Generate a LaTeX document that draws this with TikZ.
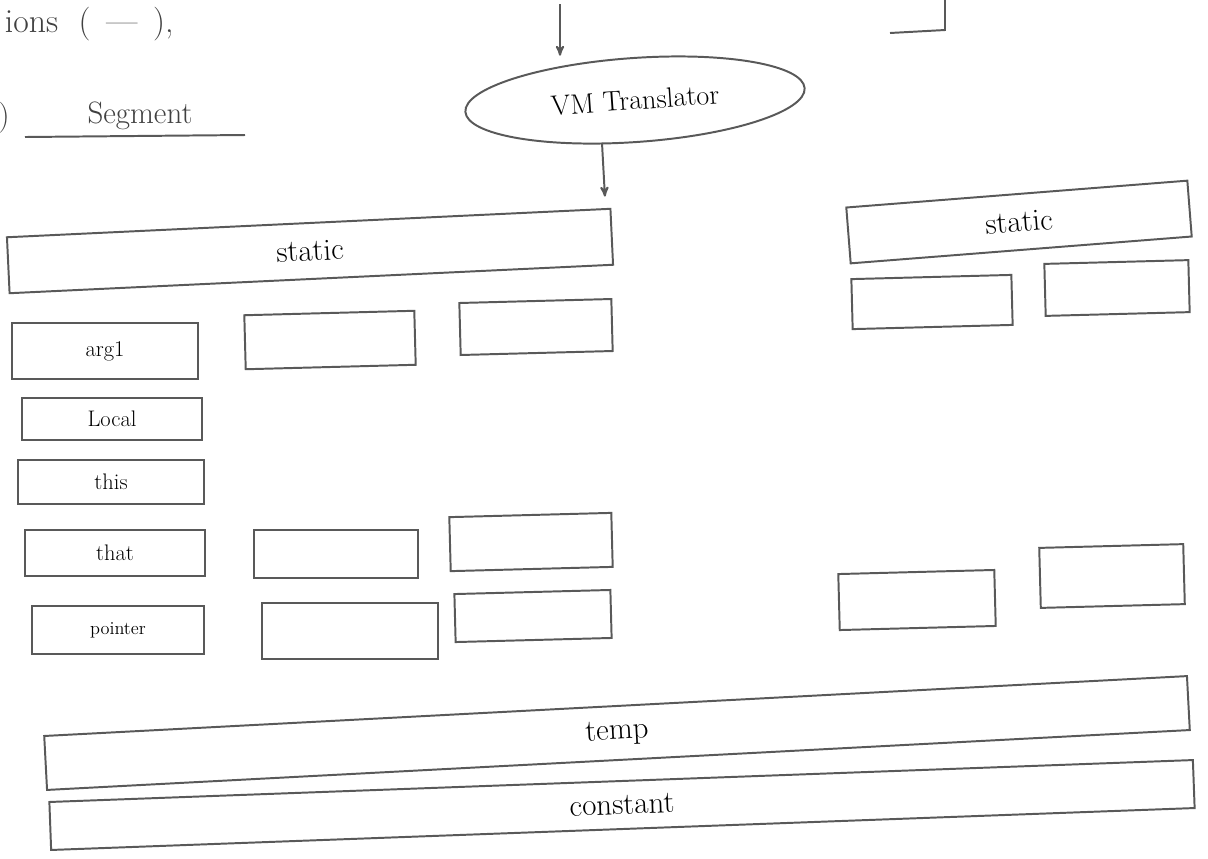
\documentclass[tikz,border=0pt]{standalone}
\usepackage{tikz}
\usetikzlibrary{arrows,shapes,positioning}
\tikzset{
  >=stealth',
  pen/.style={draw=black!65, line width=1.4pt},
  cell/.style={pen, rectangle, inner sep=0pt, font=\fontsize{16}{18}\selectfont},
  bar/.style={cell, font=\fontsize{22}{26}\selectfont},
  line/.style={pen, ->, shorten >=1pt}
}
\begin{document}
\begin{tikzpicture}[x=0.025cm,y=-0.025cm]
\useasboundingbox (0,0) rectangle (1208,858);
% heading bits cut at the page edge
\node[anchor=west,font=\fontsize{24}{28}\selectfont,text=black!75] (head) at (0,24) {ions \ (\,\ ---\ \,),};
\draw[pen] (890,33) -- (945,30) -- (945,0);
\node[font=\fontsize{22}{26}\selectfont,text=black!75] (paren) at (4,118) {)};
\node[font=\fontsize{22}{26}\selectfont,text=black!75] (segtitle) at (140,116) {Segment};
\draw[pen] (25,137) -- (245,135);
% translator
\node[pen, ellipse, minimum width=8.5cm, minimum height=2.1cm, rotate=4,
      font=\fontsize{20}{24}\selectfont] (vmt) at (635,100) {VM Translator};
\coordinate (infrom) at (560,4);
\coordinate (staticin) at (605,198);
\draw[line] (infrom) -- (infrom |- vmt.north);
\draw[line] ([xshift=-0.9cm]vmt.south) -- (staticin);
% static
\node[bar, minimum width=15.1cm, minimum height=1.4cm, rotate=2.7] (static) at (310,251) {static};
\node[bar, minimum width=8.55cm, minimum height=1.4cm, rotate=4.5] (rstatic) at (1019,222) {static};
\node[cell, minimum width=4.0cm, minimum height=1.25cm, rotate=1.5] (ra) at (932,302) {};
\node[cell, minimum width=3.6cm, minimum height=1.3cm, rotate=1.5] (rb) at (1117,288) {};
% segment rows
\node[cell, minimum width=4.65cm, minimum height=1.4cm] (arg) at (105,351) {arg1};
\node[cell, minimum width=4.25cm, minimum height=1.35cm, rotate=1.5] (arga) at (330,340) {};
\node[cell, minimum width=3.8cm, minimum height=1.3cm, rotate=1.5] (argb) at (536,327) {};
\node[cell, minimum width=4.5cm, minimum height=1.05cm] (local) at (112,419) {Local};
\node[cell, minimum width=4.65cm, minimum height=1.1cm] (this) at (111,482) {this};
\node[cell, minimum width=4.5cm, minimum height=1.15cm] (that) at (115,553) {that};
\node[cell, minimum width=4.1cm, minimum height=1.2cm] (thata) at (336,554) {};
\node[cell, minimum width=4.05cm, minimum height=1.35cm, rotate=1.5] (thatb) at (531,542) {};
\node[cell, minimum width=4.3cm, minimum height=1.2cm, font=\fontsize{13}{15}\selectfont] (pointer) at (118,630) {pointer};
\node[cell, minimum width=4.4cm, minimum height=1.4cm] (pointera) at (350,631) {};
\node[cell, minimum width=3.9cm, minimum height=1.2cm, rotate=1.5] (pointerb) at (533,616) {};
\node[cell, minimum width=3.9cm, minimum height=1.4cm, rotate=1.5] (rc) at (917,600) {};
\node[cell, minimum width=3.6cm, minimum height=1.5cm, rotate=1.5] (rd) at (1112,576) {};
% shared bars
\node[bar, minimum width=28.6cm, minimum height=1.35cm, rotate=3] (temp) at (617,733) {temp};
\node[bar, minimum width=28.6cm, minimum height=1.2cm, rotate=2.1] (constant) at (622,805) {constant};
\end{tikzpicture}
\end{document}
